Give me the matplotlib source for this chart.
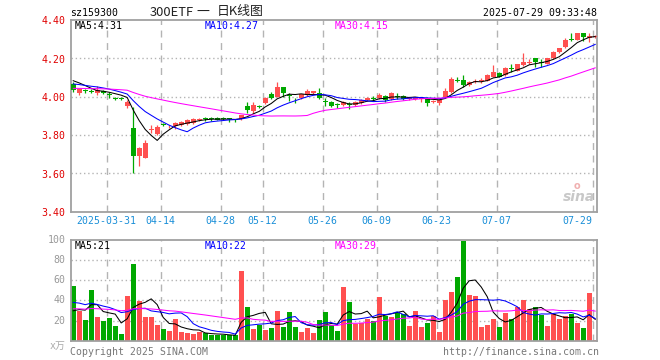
import matplotlib
matplotlib.use("Agg")
import matplotlib.pyplot as plt
import numpy as np

plt.rcParams['font.family'] = ['DejaVu Sans Mono', 'Noto Sans CJK SC']

# ---------------- data ----------------
tick_labels = ['2025-03-31', '04-14', '04-28', '05-12', '05-26', '06-09', '06-23', '07-07', '07-29']
tick_index = [6, 15, 25, 32, 42, 51, 61, 71, 87]

opens = [4.065, 4.017, 4.030, 4.030, 4.017, 4.029, 4.013, 3.993, 3.989, 3.953,
         3.834, 3.691, 3.681, 3.826, 3.803, 3.857, 3.844, 3.846, 3.852, 3.855,
         3.860, 3.880, 3.889, 3.888, 3.890, 3.889, 3.884, 3.880, 3.882, 3.952,
         3.926, 3.950, 3.965, 4.012, 4.000, 4.048, 4.005, 3.988, 3.991, 4.008,
         4.020, 4.017, 3.975, 3.974, 3.958, 3.956, 3.960, 3.956, 3.965, 3.982,
         3.992, 3.991, 4.005, 3.986, 4.000, 4.003, 3.990, 3.990, 3.985, 3.995,
         3.972, 3.965, 3.996, 4.026, 4.085, 4.087, 4.061, 4.078, 4.080, 4.083,
         4.104, 4.125, 4.113, 4.150, 4.135, 4.165, 4.178, 4.200, 4.178, 4.170,
         4.200, 4.231, 4.257, 4.299, 4.296, 4.330, 4.304, 4.313]
highs = [4.075, 4.040, 4.038, 4.038, 4.056, 4.034, 4.026, 3.999, 3.996, 3.982,
         3.947, 3.735, 3.774, 3.852, 3.852, 3.862, 3.852, 3.865, 3.872, 3.883,
         3.887, 3.887, 3.895, 3.895, 3.892, 3.891, 3.890, 3.884, 3.905, 3.974,
         3.974, 3.956, 3.998, 4.026, 4.078, 4.052, 4.017, 3.994, 4.015, 4.038,
         4.031, 4.043, 3.991, 3.976, 3.965, 3.978, 3.974, 3.976, 3.985, 3.996,
         4.003, 4.017, 4.008, 4.026, 4.017, 4.006, 4.000, 3.996, 3.997, 3.997,
         3.982, 3.985, 4.043, 4.100, 4.104, 4.113, 4.080, 4.090, 4.095, 4.116,
         4.165, 4.128, 4.155, 4.168, 4.170, 4.226, 4.195, 4.203, 4.195, 4.203,
         4.238, 4.255, 4.304, 4.334, 4.332, 4.332, 4.330, 4.324]
lows = [4.025, 4.010, 4.017, 4.017, 4.008, 4.013, 3.991, 3.982, 3.980, 3.942,
        3.600, 3.640, 3.679, 3.808, 3.800, 3.846, 3.838, 3.830, 3.848, 3.852,
        3.855, 3.872, 3.872, 3.872, 3.878, 3.878, 3.869, 3.869, 3.880, 3.913,
        3.913, 3.939, 3.962, 3.986, 3.997, 4.000, 3.977, 3.969, 3.989, 4.005,
        4.012, 3.986, 3.952, 3.948, 3.939, 3.952, 3.935, 3.953, 3.962, 3.979,
        3.979, 3.988, 3.974, 3.983, 3.986, 3.983, 3.980, 3.982, 3.974, 3.952,
        3.965, 3.956, 3.993, 4.020, 4.075, 4.052, 4.055, 4.069, 4.069, 4.080,
        4.100, 4.100, 4.110, 4.130, 4.132, 4.162, 4.170, 4.156, 4.156, 4.168,
        4.197, 4.228, 4.254, 4.292, 4.294, 4.292, 4.287, 4.308]
closes = [4.032, 4.038, 4.027, 4.025, 4.034, 4.017, 4.010, 3.990, 3.986, 3.974,
          3.690, 3.733, 3.760, 3.830, 3.843, 3.853, 3.848, 3.862, 3.869, 3.877,
          3.882, 3.882, 3.885, 3.884, 3.880, 3.881, 3.881, 3.878, 3.904, 3.930,
          3.956, 3.946, 3.994, 3.994, 4.052, 4.021, 4.002, 3.985, 4.012, 4.031,
          4.028, 3.994, 3.972, 3.951, 3.955, 3.974, 3.957, 3.972, 3.982, 3.994,
          3.988, 4.008, 3.982, 4.017, 3.996, 3.986, 3.996, 3.994, 3.995, 3.967,
          3.976, 3.982, 4.031, 4.090, 4.082, 4.061, 4.078, 4.082, 4.084, 4.113,
          4.130, 4.104, 4.151, 4.146, 4.168, 4.182, 4.182, 4.179, 4.175, 4.200,
          4.235, 4.252, 4.296, 4.295, 4.330, 4.309, 4.318, 4.315]
volumes = [54, 29.7, 20.7, 50.7, 24, 19.7, 23, 14.7, 6.7, 44.7,
           75.7, 39.7, 23.7, 24, 16, 12, 9.7, 21.7, 8.7, 7.4,
           6.4, 8.7, 7.4, 5.4, 5.4, 5.4, 5.4, 5.4, 69.7, 33,
           12, 15.4, 10.7, 13, 29.7, 13.7, 28.7, 14, 8.7, 12.7,
           8, 20.7, 28.7, 15.4, 9.7, 53, 38, 16.4, 17.4, 22,
           19.7, 43, 24.7, 24, 28.7, 26.4, 14.7, 29.7, 14, 18,
           24.7, 8.7, 40.7, 48.7, 63.7, 98.7, 45.7, 44.7, 14, 15.7,
           21.7, 14, 27.7, 21.7, 33.7, 40.7, 31, 33.7, 26, 14.7,
           27, 21.7, 24.7, 27, 17.7, 12.7, 47.7, 1]

# moving-average values at the left edge (earlier days are off-screen)
price_ma_start = {5: 4.083, 10: 4.066, 30: 4.043}
vol_ma_start = {5: 29.7, 10: 38.0, 30: 31.7}

price_ticks = [4.40, 4.20, 4.00, 3.80, 3.60, 3.40]
vol_ticks = [100, 80, 60, 40, 20]

price_ma_labels = ['MA5:4.31', 'MA10:4.27', 'MA30:4.15']
vol_ma_labels = ['MA5:21', 'MA10:22', 'MA30:29']

title_parts = ['300ETF', '一', '日K线图']

# ---------------- helpers ----------------
W, H = 660, 360
RED = '#ff5050'
GREEN = '#00a800'
MA_COLORS = ['#000000', '#0000ff', '#ff00ff']
GRID = '#b4b4b4'
FRAME = '#a0a0a0'


def moving_avg(vals, n, start):
    vals = np.asarray(vals, float)
    seed = (n * start - vals[0]) / (n - 1)
    ext = np.concatenate([np.full(n - 1, seed), vals])
    return np.convolve(ext, np.ones(n) / n, mode='valid')


def ftext(xp, yp, s, **kw):
    fig.text(xp / W, 1 - yp / H, s, **kw)


fig = plt.figure(figsize=(W / 100, H / 100), dpi=100)
left_px, right_px = 70.7, 597.0
axp = fig.add_axes([left_px / W, 1 - 211.5 / H, (right_px - left_px) / W, (211.5 - 20) / H])
axv = fig.add_axes([left_px / W, 1 - 340.7 / H, (right_px - left_px) / W, (340.7 - 240) / H])

n = len(closes)
x = np.arange(n)
o = np.array(opens); c = np.array(closes); hi = np.array(highs); lo = np.array(lows)
v = np.array(volumes)
up = c >= o
cols = np.where(up, RED, GREEN)
xl = (-0.417, 87.3)

for ax in (axp, axv):
    ax.set_xlim(*xl)
    ax.set_xticks([]); ax.set_yticks([])
    for s in ax.spines.values():
        s.set_color(FRAME); s.set_linewidth(1.3)
    for ti in tick_index:
        ax.axvline(ti - 0.417, color=GRID, lw=1.0, ls=(0, (5, 4)), zorder=0)

axp.set_ylim(3.40, 4.40)
axv.set_ylim(0, 100)
for p in price_ticks[1:-1]:
    axp.axhline(p, color=GRID, lw=1.0, ls=(0, (1, 2)), zorder=0)
for t in vol_ticks[1:]:
    axv.axhline(t, color=GRID, lw=1.0, ls=(0, (1, 2)), zorder=0)

# candles
axp.vlines(x, lo, hi, colors=cols, lw=0.9, zorder=2)
bodies = np.maximum(np.abs(c - o), 0.005)
axp.bar(x, bodies, bottom=np.minimum(o, c), width=0.83, color=cols, linewidth=0, zorder=3)

# volume bars
axv.bar(x, v, width=0.83, color=cols, linewidth=0, zorder=2)

# moving averages
for k, nn in enumerate([5, 10, 30]):
    axp.plot(x, moving_avg(c, nn, price_ma_start[nn]), color=MA_COLORS[k], lw=0.75, zorder=4)
    axv.plot(x, moving_avg(v, nn, vol_ma_start[nn]), color=MA_COLORS[k], lw=0.75, zorder=4)

# MA labels
for k, xp in enumerate([75, 205, 335]):
    ftext(xp, 26, price_ma_labels[k], color=MA_COLORS[k], fontsize=7.1, ha='left', va='center')
    ftext(xp, 246, vol_ma_labels[k], color=MA_COLORS[k], fontsize=7.1, ha='left', va='center')

# price axis labels
for p in price_ticks:
    yp = 20 + (4.40 - p) * 191.5
    ftext(65.5, yp + 1.5, f'{p:.2f}', color='#e00000', fontsize=7.1, ha='right', va='center')
# volume axis labels
for t in vol_ticks:
    yp = 340.7 - (340.7 - 240) * t / 100
    ftext(65.5, yp, str(t), color='#999999', fontsize=7.1, ha='right', va='center')
ftext(65.5, 346, 'x万', color='#aaaaaa', fontsize=7.1, ha='right', va='center')

# date labels
for lab, ti in zip(tick_labels, tick_index):
    xp = left_px + 6 * ti
    if ti == tick_index[-1]:
        ftext(xp, 221.5, lab, color='#1a8fd8', fontsize=7.1, ha='right', va='center')
    else:
        ftext(xp, 221.5, lab, color='#1a8fd8', fontsize=7.1, ha='center', va='center')

# header
ftext(70, 12.5, 'sz159300', color='#000000', fontsize=7.1, ha='left', va='center')
tfam = ['Noto Sans CJK SC', 'DejaVu Sans']
ftext(150, 12, title_parts[0], color='#222222', fontsize=9.3, ha='left', va='center', family=tfam)
ftext(203, 12, title_parts[1], color='#222222', fontsize=9.3, ha='center', va='center', family=tfam)
ftext(217, 12, title_parts[2], color='#222222', fontsize=9.3, ha='left', va='center', family=tfam)
ftext(597, 12.5, '2025-07-29 09:33:48', color='#000000', fontsize=7.1, ha='right', va='center')

# footer
ftext(70, 352, 'Copyright 2025 SINA.COM', color='#777777', fontsize=7.1, ha='left', va='center')
ftext(599, 352, 'http://finance.sina.com.cn', color='#777777', fontsize=7.1, ha='right', va='center')

# watermark
ftext(595, 197, 'sina', color='#c8c8c8', fontsize=10, fontweight='bold', style='italic',
      ha='right', va='center', family='DejaVu Sans')
ftext(577, 186, 'o', color='#f0b0b0', fontsize=7, fontweight='bold', ha='center', va='center',
      family='DejaVu Sans')

fig.savefig('out.png', dpi=100)
